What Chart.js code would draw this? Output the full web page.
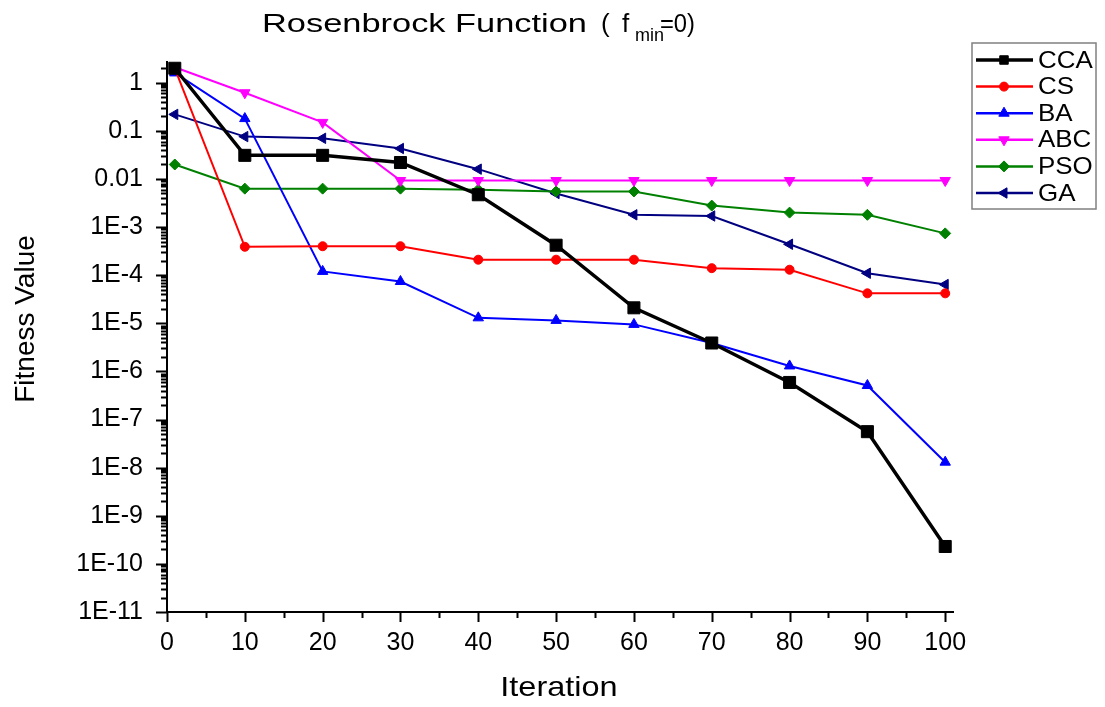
<!DOCTYPE html>
<html>
<head>
<meta charset="utf-8">
<script src="https://cdn.jsdelivr.net/npm/chart.js@4"></script>
<style>
  html, body { margin: 0; padding: 0; background: #fff; }
  #wrap { width: 1105px; height: 707px; }
</style>
</head>
<body>
<div id="wrap"><canvas id="rosenbrockChart" width="1105" height="707"></canvas></div>
<script>
// Data
const iterations = [1, 10, 20, 30, 40, 50, 60, 70, 80, 90, 100];
const ccaValues = [2.0, 0.031, 0.031, 0.022, 0.0047, 4.2e-4, 2.1e-5, 3.9e-6, 5.9e-7, 5.6e-8, 2.3e-10];
const csValues  = [2.0, 3.9e-4, 4.0e-4, 4.0e-4, 2.1e-4, 2.1e-4, 2.1e-4, 1.4e-4, 1.3e-4, 4.2e-5, 4.2e-5];
const baValues  = [1.6, 0.18, 1.2e-4, 7.4e-5, 1.3e-5, 1.15e-5, 9.5e-6, 3.9e-6, 1.3e-6, 5.1e-7, 1.3e-8];
const abcValues = [2.1, 0.62, 0.15, 0.0093, 0.0093, 0.0093, 0.0093, 0.0093, 0.0093, 0.0093, 0.0093];
const psoValues = [0.02, 0.0063, 0.0063, 0.0063, 0.006, 0.0055, 0.0055, 0.0028, 0.002, 0.0018, 7.4e-4];
const gaValues  = [0.22, 0.076, 0.07, 0.043, 0.016, 0.005, 0.0018, 0.0017, 4.4e-4, 1.1e-4, 6.4e-5];

const yTickValues = [1, 0.1, 0.01, 1e-3, 1e-4, 1e-5, 1e-6, 1e-7, 1e-8, 1e-9, 1e-10, 1e-11];
const yTickLabels = ['1', '0.1', '0.01', '1E-3', '1E-4', '1E-5', '1E-6', '1E-7', '1E-8', '1E-9', '1E-10', '1E-11'];
const xTickValues = [0, 10, 20, 30, 40, 50, 60, 70, 80, 90, 100];

const FONT = "'Liberation Sans', Arial, sans-serif";

function series(values) {
    return values.map((v, i) => ({ x: iterations[i], y: v }));
}

function makeDataset(label, values, color, style, radius, rotation, width) {
    return {
        label: label,
        data: series(values),
        borderColor: color,
        backgroundColor: color,
        borderWidth: width,
        pointStyle: style,
        pointRadius: radius,
        pointHoverRadius: radius,
        pointRotation: rotation,
        pointBorderWidth: 1,
        tension: 0,
        clip: false
    };
}

// text squeezed/stretched to a given width
function fitText(ctx, text, x, y, width) {
    const w = ctx.measureText(text).width;
    ctx.save();
    ctx.translate(x, y);
    ctx.scale(width / w, 1);
    ctx.fillText(text, 0, 0);
    ctx.restore();
}

// Draws tick marks, title, axis titles and the boxed legend
const decorations = {
    id: 'decorations',
    afterDraw(chart) {
        const ctx = chart.ctx;
        const xs = chart.scales.x;
        const ys = chart.scales.y;
        const area = chart.chartArea;
        ctx.save();
        ctx.strokeStyle = '#000';
        ctx.lineWidth = 2;

        // y ticks (outward)
        ctx.beginPath();
        for (let n = -11; n <= 0; n++) {
            for (let k = 1; k <= 9; k++) {
                const v = k * Math.pow(10, n);
                if (v > ys.max * 1.0001) continue;
                const py = Math.round(ys.getPixelForValue(v)) + 0.5;
                const len = k === 1 ? 11 : 6;
                ctx.moveTo(area.left, py);
                ctx.lineTo(area.left - len, py);
            }
        }
        ctx.stroke();

        // x ticks (outward)
        ctx.beginPath();
        for (let v = 0; v <= 100; v += 5) {
            const px = Math.round(xs.getPixelForValue(v)) + 0.5;
            const len = v % 10 === 0 ? 10 : 6;
            ctx.moveTo(px, area.bottom);
            ctx.lineTo(px, area.bottom + len);
        }
        ctx.stroke();

        // title with subscript
        ctx.fillStyle = '#000';
        ctx.textBaseline = 'alphabetic';
        ctx.textAlign = 'left';
        ctx.font = '26px ' + FONT;
        fitText(ctx, 'Rosenbrock Function', 262, 32, 325);
        ctx.fillText('(', 601, 32);
        ctx.fillText('f', 622, 32);
        ctx.font = '18px ' + FONT;
        ctx.fillText('min', 635, 41);
        ctx.font = '26px ' + FONT;
        fitText(ctx, '=0)', 660, 32, 35);

        // axis titles
        ctx.font = '28px ' + FONT;
        ctx.textAlign = 'center';
        ctx.textBaseline = 'middle';
        ctx.save();
        ctx.translate(559, 688);
        ctx.scale(1.16, 1);
        ctx.fillText('Iteration', 0, 0);
        ctx.restore();
        ctx.save();
        ctx.translate(26, 319);
        ctx.rotate(-Math.PI / 2);
        ctx.fillText('Fitness Value', 0, 0);
        ctx.restore();

        // legend box
        const bx = 972, by = 43, bw = 124, bh = 166;
        ctx.strokeStyle = '#808080';
        ctx.lineWidth = 1.5;
        ctx.strokeRect(bx, by, bw, bh);
        ctx.font = '24px ' + FONT;
        ctx.textAlign = 'left';
        ctx.textBaseline = 'middle';
        chart.data.datasets.forEach((ds, i) => {
            const ly = 60 + i * 26.6;
            ctx.strokeStyle = ds.borderColor;
            ctx.lineWidth = Math.max(ds.borderWidth, 2.5);
            ctx.beginPath();
            ctx.moveTo(976, ly);
            ctx.lineTo(1033, ly);
            ctx.stroke();
            ctx.fillStyle = ds.backgroundColor;
            ctx.strokeStyle = ds.borderColor;
            ctx.lineWidth = 1;
            Chart.helpers.drawPoint(ctx, {
                pointStyle: ds.pointStyle,
                rotation: ds.pointRotation,
                radius: Math.min(ds.pointRadius, 6),
                borderWidth: 1
            }, 1004, ly);
            ctx.fillStyle = '#000';
            ctx.save();
            ctx.translate(1038, ly + 1);
            ctx.scale(1.08, 1);
            ctx.fillText(ds.label, 0, 0);
            ctx.restore();
        });
        ctx.restore();
    }
};

const ctx = document.getElementById('rosenbrockChart').getContext('2d');

new Chart(ctx, {
    type: 'line',
    data: {
        datasets: [
            makeDataset('CCA', ccaValues, '#000000', 'rect', 8.5, 0, 3.5),
            makeDataset('CS', csValues, '#ff0000', 'circle', 4.5, 0, 2),
            makeDataset('BA', baValues, '#0000ff', 'triangle', 6, 0, 2),
            makeDataset('ABC', abcValues, '#ff00ff', 'triangle', 6, 180, 2),
            makeDataset('PSO', psoValues, '#008000', 'rectRot', 5.5, 0, 2),
            makeDataset('GA', gaValues, '#000080', 'triangle', 6, -90, 2)
        ]
    },
    options: {
        responsive: false,
        animation: false,
        events: [],
        layout: { padding: { top: 62, right: 152, bottom: 0, left: 0 } },
        plugins: {
            legend: { display: false },
            title: { display: false },
            tooltip: { enabled: false }
        },
        scales: {
            x: {
                type: 'linear',
                min: 0,
                max: 101,
                afterBuildTicks(scale) {
                    scale.ticks = xTickValues.map(v => ({ value: v }));
                },
                afterFit(scale) { scale.height = 95; },
                grid: { display: false, drawTicks: false },
                border: { display: true, color: '#000', width: 2 },
                ticks: {
                    padding: 16,
                    color: '#000',
                    maxRotation: 0,
                    autoSkip: false,
                    font: { size: 25, family: FONT }
                }
            },
            y: {
                type: 'logarithmic',
                min: 1e-11,
                max: 2.7,
                afterBuildTicks(scale) {
                    scale.ticks = yTickValues.map(v => ({ value: v, major: true }));
                },
                afterFit(scale) { scale.width = 167; },
                grid: { display: false, drawTicks: false },
                border: { display: true, color: '#000', width: 2 },
                ticks: {
                    padding: 24,
                    color: '#000',
                    autoSkip: false,
                    font: { size: 25, family: FONT },
                    callback: function(value) {
                        const idx = yTickValues.findIndex(t => Math.abs(Math.log10(t) - Math.log10(value)) < 1e-6);
                        return idx >= 0 ? yTickLabels[idx] : '';
                    }
                }
            }
        }
    },
    plugins: [decorations]
});
</script>
</body>
</html>
